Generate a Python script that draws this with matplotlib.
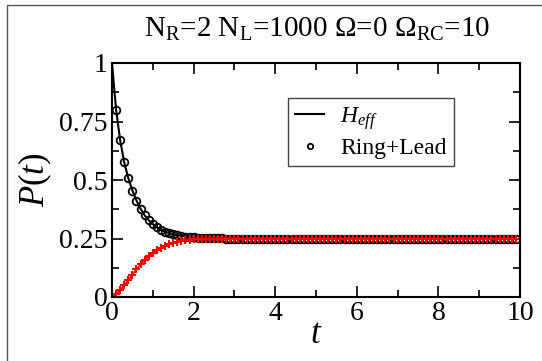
import matplotlib.pyplot as plt
from matplotlib.patches import Rectangle

plt.rcParams['font.family'] = ['Liberation Serif', 'DejaVu Serif']
plt.rcParams['mathtext.fontset'] = 'custom'
plt.rcParams['mathtext.rm'] = 'Liberation Serif'
plt.rcParams['mathtext.it'] = 'Liberation Serif:italic'

# time grid (step 0.1, 0 .. 9.9)
t = [round(0.1 * i, 1) for i in range(100)]

# H_eff / Ring+Lead (black)
p_ring = [1.0, 0.80, 0.67, 0.575, 0.507, 0.455, 0.412, 0.377, 0.349, 0.328,
          0.311, 0.298, 0.288, 0.279, 0.273, 0.268, 0.264, 0.261, 0.258, 0.256,
          0.255, 0.254, 0.253, 0.252, 0.252, 0.251, 0.251, 0.251, 0.250, 0.250] + [0.25] * 70

# second site (red)
p_red = [0.0, 0.012, 0.03, 0.05, 0.073, 0.096, 0.118, 0.139, 0.158, 0.174,
         0.188, 0.199, 0.209, 0.218, 0.225, 0.231, 0.236, 0.240, 0.243, 0.245,
         0.247, 0.248, 0.249, 0.249, 0.250, 0.250] + [0.25] * 74

fig = plt.figure(figsize=(5.42, 3.61), dpi=100)
ax = fig.add_axes([112/542, 1-297/361, 408/542, 234/361])

ax.plot(t, p_ring, color='black', lw=1.5, label='$H_{eff}$')
ax.plot(t[1:], p_ring[1:], 'o', mfc='none', mec='black', ms=5.5, mew=1.3,
        label='Ring+Lead')
ax.plot(t, p_red, color='red', lw=1.3, marker='+', ms=6, mew=1.5)

ax.set_xlim(0, 10)
ax.set_ylim(0, 1)
ax.set_xticks([0, 2, 4, 6, 8, 10])
ax.set_xticklabels(['0', '2', '4', '6', '8', '10'])
ax.set_xticks([1, 3, 5, 7, 9], minor=True)
ax.set_yticks([0, 0.25, 0.5, 0.75, 1])
ax.set_yticklabels(['0', '0.25', '0.5', '0.75', '1'])
ax.set_yticks([0.125, 0.375, 0.625, 0.875], minor=True)
ax.tick_params(which='both', direction='in', top=True, right=True,
               labelsize=20, width=1.2)
ax.tick_params(which='major', length=8, pad=3)
ax.tick_params(which='minor', length=5)
for s in ax.spines.values():
    s.set_linewidth(1.5)

ax.set_xlabel('$t$', fontsize=25, labelpad=-6)
ax.set_ylabel('$P(t)$', fontsize=25, labelpad=4)

leg = ax.legend(loc='upper left', bbox_to_anchor=(0.432, 0.852), fontsize=17,
                fancybox=False, edgecolor='#444444', framealpha=1,
                handlelength=1.2, handletextpad=0.7, borderpad=0.3,
                labelspacing=0.25, markerscale=0.7, borderaxespad=0)
leg.get_frame().set_linewidth(1.0)

fig.text(0.585, 0.918, r'N$_\mathrm{R}$=2 N$_\mathrm{L}$=1000 $\Omega$=0 $\Omega_\mathrm{RC}$=10',
         ha='center', va='center', fontsize=21)

fig.patches.append(Rectangle((7/542, -0.1), 1.2, 1.1 - 5/361,
                             transform=fig.transFigure, fill=False,
                             edgecolor='#555555', lw=1.0))

fig.savefig('out.png', dpi=100)
